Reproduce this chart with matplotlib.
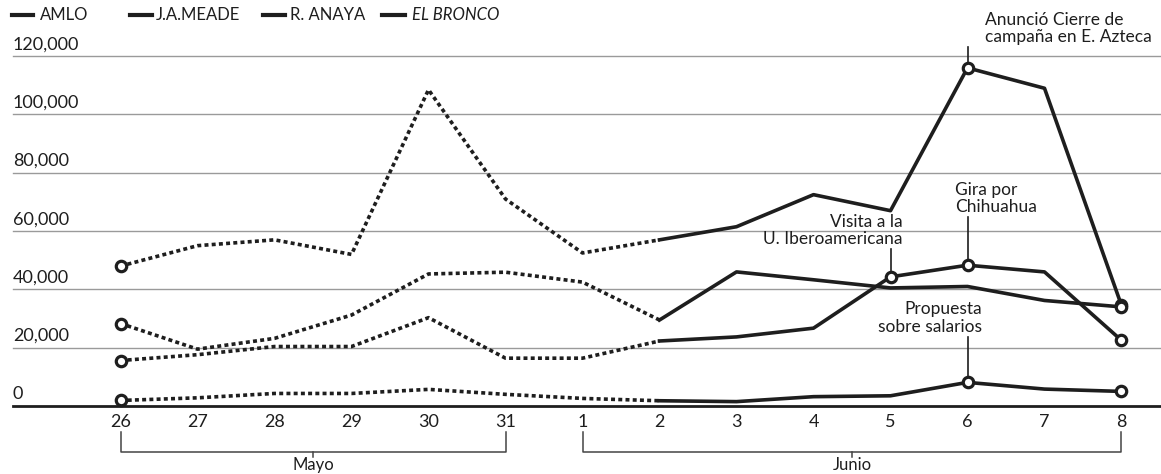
import matplotlib.pyplot as plt
from matplotlib.lines import Line2D

# días (26-31 mayo, 1-8 junio)
dias = ['26', '27', '28', '29', '30', '31', '1', '2', '3', '4', '5', '6', '7', '8']
meses = ['Mayo', 'Junio']
candidatos = ['AMLO', 'J.A.MEADE', 'R. ANAYA', 'EL BRONCO']

amlo = [48000, 55000, 57000, 52000, 108500, 71000, 52500, 57000, 61500, 72500, 67000, 116000, 109000, 34500]
anaya = [28300, 19500, 23200, 31200, 45300, 45900, 42500, 29500, 46000, 43300, 40500, 41000, 36200, 34000]
meade = [15600, 17600, 20400, 20400, 30300, 16400, 16400, 22300, 23700, 26700, 44300, 48300, 46000, 22500]
bronco = [1900, 2800, 4300, 4300, 5700, 4000, 2600, 1800, 1500, 3200, 3500, 8100, 5800, 5000]

yticks = [0, 20000, 40000, 60000, 80000, 100000, 120000]

plt.rcParams['font.family'] = ['Lato', 'DejaVu Sans']
ink = '#1e1e1e'
gris = '#9a9a9a'

fig = plt.figure(figsize=(11.61, 4.74), dpi=100)
ax = fig.add_axes([0, 0, 1, 1])
ax.set_xlim(-1.565, 13.513)
ax.set_ylim(-23330, 139280)
ax.axis('off')

x = list(range(len(dias)))

# grid + eje
for v in yticks[1:]:
    ax.axhline(v, xmin=0.011, color=gris, lw=1.0, zorder=1)
ax.axhline(0, xmin=0.011, color=ink, lw=2.0, zorder=2)
for v in yticks:
    ax.text(-1.4, v + 1300, f'{v:,}', ha='left', va='bottom', fontsize=13, color=ink)

# series: punteado hasta el 2 de junio, sólido después
corte = dias.index('2')
for vals in [amlo, anaya, meade, bronco]:
    ax.plot(x[:corte + 1], vals[:corte + 1], color=ink, lw=2.6,
            ls=(0, (1.1, 0.9)), dash_capstyle='butt', zorder=3)
    ax.plot(x[corte:], vals[corte:], color=ink, lw=2.6, zorder=3)
    ax.plot([x[0], x[-1]], [vals[0], vals[-1]], 'o', ms=7.5, mfc='white',
            mec=ink, mew=2.3, zorder=5)

# eventos
eventos = [
    (amlo, 11, 'Anunció Cierre de\ncampaña en E. Azteca', 11.23, 123800, 'left'),
    (meade, 11, 'Gira por\nChihuahua', 10.84, 65500, 'left'),
    (meade, 10, 'Visita a la\nU. Iberoamericana', 10.16, 54500, 'right'),
    (bronco, 11, 'Propuesta\nsobre salarios', 11.19, 24500, 'right'),
]
for vals, i, txt, tx, ty, ha in eventos:
    ax.plot([x[i], x[i]], [ty - 800, vals[i]], color=ink, lw=1.2, zorder=4)
    ax.plot(x[i], vals[i], 'o', ms=7.5, mfc='white', mec=ink, mew=2.3, zorder=5)
    ax.text(tx, ty, txt, ha=ha, va='bottom', fontsize=12.5, color=ink,
            linespacing=1.1)

# etiquetas de días
for i, d in zip(x, dias):
    ax.text(i, -5500, d, ha='center', va='center', fontsize=13, color=ink)

# llaves de meses
rangos = [(0, dias.index('31')), (dias.index('1'), len(dias) - 1)]
for (a, b), mes in zip(rangos, meses):
    ax.plot([a, a, b, b], [-9000, -15800, -15800, -9000], color='#444444', lw=1.1)
    c = (a + b) / 2
    ax.plot([c, c], [-15800, -17600], color='#444444', lw=1.1)
    ax.text(c, -20300, mes, ha='center', va='center', fontsize=12, color=ink)

# leyenda
W, H = 1161, 474
leg = [(12, 33, 40), (130, 152, 156), (263, 285, 290), (382, 405, 412)]
for (l0, l1, tx), nombre in zip(leg, candidatos):
    fig.add_artist(Line2D([l0 / W, l1 / W], [1 - 15 / H, 1 - 15 / H],
                          transform=fig.transFigure, color=ink, lw=3))
    fig.text(tx / W, 1 - 15 / H, nombre, ha='left', va='center', fontsize=12,
             color=ink, style='italic' if nombre == 'EL BRONCO' else 'normal')

fig.savefig('out.png', dpi=100)
